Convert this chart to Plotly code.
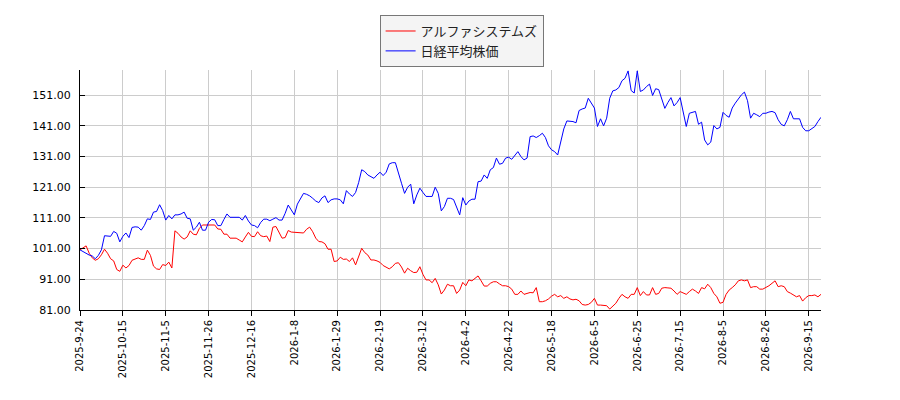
import pandas as pd
import plotly.graph_objects as go

# Tokyo exchange closed days between the first and last date
holidays = [
    "2025-10-13", "2025-11-03", "2025-11-24", "2025-12-31", "2026-01-01",
    "2026-01-02", "2026-01-12", "2026-02-11", "2026-02-23", "2026-03-20",
    "2026-04-29", "2026-05-04", "2026-05-05", "2026-05-06", "2026-07-20",
    "2026-08-11", "2026-09-21", "2026-09-22", "2026-09-23",
]
start_date = "2025-09-24"
end_date = "2026-09-24"

tick_labels = [
    "2025-9-24", "2025-10-15", "2025-11-5", "2025-11-26", "2025-12-16",
    "2026-1-8", "2026-1-29", "2026-2-19", "2026-3-12", "2026-4-2",
    "2026-4-22", "2026-5-18", "2026-6-5", "2026-6-25", "2026-7-15",
    "2026-8-5", "2026-8-26", "2026-9-15",
]
y_ticks = [81, 91, 101, 111, 121, 131, 141, 151]

# アルファシステムズ (indexed to 100)
alpha = [
    100.6, 101.3, 101.9, 99.5, 98.0, 97.2, 97.7, 99.0, 100.8, 99.5,
    97.7, 97.0, 94.2, 93.6, 95.6, 94.7, 95.5, 97.2, 97.6, 98.0,
    97.5, 97.5, 100.5, 98.8, 95.3, 94.4, 94.2, 95.8, 95.5, 96.6,
    94.7, 106.8, 106.0, 104.8, 104.1, 104.8, 106.8, 105.7, 105.5, 107.6,
    108.7, 108.7, 108.7, 108.7, 108.7, 107.4, 107.3, 105.7, 105.7, 104.4,
    104.4, 104.4, 103.8, 103.2, 104.8, 106.3, 105.0, 104.9, 106.5, 105.2,
    104.9, 105.1, 103.3, 108.0, 108.2, 106.5, 104.4, 104.6, 106.9, 106.4,
    106.3, 106.2, 106.0, 106.1, 107.3, 108.0, 106.5, 104.4, 103.3, 103.2,
    102.6, 100.8, 100.8, 96.8, 97.0, 98.2, 97.5, 97.6, 96.8, 98.0,
    95.7, 98.2, 101.1, 99.7, 98.9, 97.3, 97.3, 97.0, 96.5, 95.5,
    95.0, 94.4, 95.1, 96.2, 96.4, 95.0, 93.0, 94.6, 93.8, 93.2,
    93.3, 95.1, 92.6, 90.8, 90.8, 89.9, 91.3, 89.2, 86.2, 87.5,
    89.4, 88.9, 88.9, 86.4, 87.5, 90.0, 88.9, 90.8, 90.5, 91.3,
    92.1, 90.5, 88.8, 88.8, 89.7, 90.2, 90.2, 89.5, 88.9, 88.9,
    88.6, 87.8, 86.1, 86.1, 87.2, 86.1, 86.4, 86.7, 86.6, 88.3,
    83.7, 83.7, 84.0, 84.6, 85.5, 86.1, 85.3, 85.7, 84.8, 85.3,
    84.6, 84.3, 84.5, 84.0, 82.8, 82.6, 82.8, 83.5, 84.8, 82.6,
    82.6, 82.6, 82.4, 81.3, 82.4, 83.2, 84.8, 86.1, 85.3, 84.8,
    86.1, 86.1, 88.3, 85.7, 87.0, 85.9, 85.9, 88.3, 86.1, 86.4,
    88.1, 88.3, 88.2, 88.1, 87.2, 86.1, 87.0, 86.6, 86.1, 87.0,
    87.8, 87.2, 86.4, 88.3, 87.9, 89.4, 88.3, 86.4, 85.3, 83.2,
    83.5, 86.1, 87.5, 88.3, 89.2, 90.5, 90.8, 90.5, 90.8, 88.3,
    88.6, 88.6, 87.8, 87.8, 88.3, 88.9, 89.7, 90.5, 88.6, 88.9,
    88.6, 87.0, 86.5, 85.9, 85.3, 85.7, 83.9, 85.0, 85.7, 85.7,
    85.9, 85.3, 86.1,
]

# 日経平均株価 (indexed to 100)
nikkei = [
    100.6, 100.0, 99.6, 98.9, 98.6, 97.7, 98.8, 100.6, 105.2, 105.2,
    105.0, 106.6, 106.0, 103.2, 105.0, 106.1, 104.6, 107.9, 108.1, 108.0,
    107.0, 108.5, 110.7, 110.5, 112.9, 113.1, 115.3, 113.4, 110.3, 111.8,
    110.7, 112.0, 112.0, 112.3, 112.9, 110.9, 110.7, 107.0, 108.0, 109.6,
    107.0, 107.0, 109.6, 110.5, 110.4, 108.5, 108.5, 110.5, 112.3, 111.2,
    111.2, 111.2, 111.2, 110.3, 111.8, 110.0, 108.7, 108.5, 107.8, 109.5,
    110.6, 110.6, 110.1, 110.6, 111.1, 110.3, 110.3, 112.5, 115.2, 113.6,
    112.0, 115.5, 117.4, 119.0, 118.7, 118.2, 117.4, 116.5, 116.0, 117.5,
    118.2, 116.0, 116.9, 117.2, 117.2, 116.9, 115.6, 119.9, 118.8, 118.0,
    119.3, 122.5, 126.7, 126.1, 125.0, 124.5, 123.9, 125.0, 125.9, 124.8,
    125.9, 128.6, 129.0, 129.0, 126.0, 122.3, 119.0, 121.0, 122.0, 115.6,
    118.5, 120.7, 119.3, 118.0, 118.0, 118.0, 121.0, 119.0, 113.3, 114.7,
    117.4, 117.4, 117.0, 114.2, 112.0, 117.6, 115.2, 116.5, 117.1, 117.1,
    122.8, 123.0, 125.0, 123.9, 126.7, 127.4, 130.5, 128.5, 128.8, 130.5,
    130.8, 130.1, 131.3, 132.6, 131.0, 129.9, 130.5, 137.5, 137.7, 137.2,
    137.8, 138.6, 137.2, 134.5, 133.2, 132.6, 131.5, 135.9, 140.0, 142.6,
    142.5, 142.4, 142.0, 146.0, 146.5, 146.8, 150.0, 148.4, 146.8, 140.8,
    143.3, 141.0, 143.5, 150.0, 152.4, 152.7, 153.5, 155.7, 156.5, 158.9,
    152.5, 151.7, 158.9, 152.2, 152.7, 153.8, 154.6, 150.9, 153.1, 152.8,
    150.0, 146.7, 148.6, 150.2, 147.5, 148.6, 150.2, 145.7, 140.8, 145.1,
    145.5, 145.7, 141.5, 142.2, 136.4, 134.8, 135.7, 141.1, 140.0, 140.5,
    145.4, 144.4, 143.8, 146.8, 148.4, 149.8, 151.1, 152.0, 149.2, 143.5,
    145.1, 144.6, 144.0, 145.1, 145.1, 145.5, 145.7, 145.3, 143.0, 141.5,
    141.0, 143.0, 145.7, 143.3, 143.3, 143.3, 140.5, 139.4, 139.4, 140.0,
    140.8, 142.4, 143.8,
]

days = pd.bdate_range(start_date, end_date, freq="C", holidays=holidays)
dates = [f"{d.year}-{d.month}-{d.day}" for d in days]
n = min(len(dates), len(alpha), len(nikkei))
dates = dates[:n]

fig = go.Figure()
fig.add_trace(go.Scatter(x=dates, y=alpha[:n], mode="lines", name="アルファシステムズ",
                         line=dict(color="#ff0000", width=1)))
fig.add_trace(go.Scatter(x=dates, y=nikkei[:n], mode="lines", name="日経平均株価",
                         line=dict(color="#0000ff", width=1)))

axis_font = dict(family="DejaVu Sans", size=10, color="#000000")
# the page body adds 8px on the left/top, so margins are shifted to compensate
fig.update_layout(
    width=900, height=400,
    margin=dict(l=72, r=87, t=62, b=98, autoexpand=False),
    paper_bgcolor="white", plot_bgcolor="white",
    font=dict(family="DejaVu Sans, Noto Sans CJK JP", size=12, color="#000000"),
    showlegend=True,
    legend=dict(
        x=0.515, y=1.229, xanchor="center", yanchor="top",
        bgcolor="#f4f4f4", bordercolor="#777777", borderwidth=1,
        font=dict(family="Noto Sans CJK JP", size=13, color="#222222"),
        tracegroupgap=0, itemwidth=30,
    ),
)
fig.update_xaxes(
    type="category", range=[0, n - 1], automargin=False,
    tickmode="array", tickvals=tick_labels, ticktext=tick_labels,
    tickangle=-90, tickfont=axis_font,
    ticks="outside", ticklen=5, tickcolor="#000000",
    showgrid=True, gridcolor="#cccccc", gridwidth=1,
    showline=True, linecolor="#000000", linewidth=1,
    zeroline=False,
)
fig.update_yaxes(
    range=[81, 159.2], automargin=False,
    tickmode="array", tickvals=y_ticks,
    tickformat=".2f", tickfont=dict(family="DejaVu Sans", size=11, color="#000000"),
    ticks="inside", ticklen=5, tickcolor="#000000", ticklabelstandoff=6,
    showgrid=True, gridcolor="#cccccc", gridwidth=1,
    showline=True, linecolor="#000000", linewidth=1,
    zeroline=False,
)

fig.write_html("out.html")
